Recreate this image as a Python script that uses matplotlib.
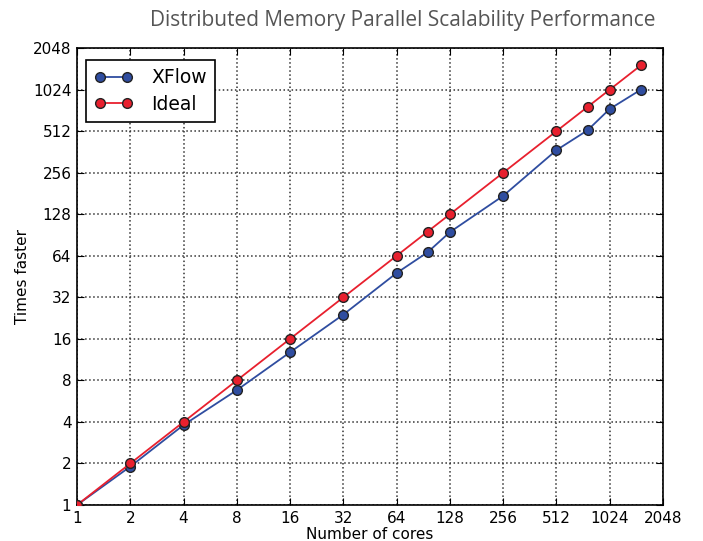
import numpy as np
import matplotlib.pyplot as plt

# Data
cores = np.array([1, 2, 4, 8, 16, 32, 64, 96, 128, 256, 512, 768, 1024, 1536])
xflow = np.array([1, 1.9, 3.8, 6.8, 12.8, 24, 48, 68, 95, 174, 373, 520, 742, 1024])
ideal = cores.astype(float)
ticks = [1, 2, 4, 8, 16, 32, 64, 128, 256, 512, 1024, 2048]

fig = plt.figure(figsize=(7.03, 5.41), dpi=100)
ax = fig.add_axes([0.1095, 0.0665, 0.8335, 0.8445])

ax.plot(cores, xflow, '-o', color='#2f4da0', mfc='#2f4da0', mec='#222222',
        ms=7, lw=1.3, label='XFlow', zorder=3)
ax.plot(cores, ideal, '-o', color='#e8202e', mfc='#e8202e', mec='#222222',
        ms=7, lw=1.3, label='Ideal', zorder=3)

ax.set_xscale('log', base=2)
ax.set_yscale('log', base=2)
ax.set_xlim(1, 2048)
ax.set_ylim(1, 2048)
ax.set_xticks(ticks)
ax.set_xticklabels([str(t) for t in ticks])
ax.set_yticks(ticks)
ax.set_yticklabels([str(t) for t in ticks])
ax.minorticks_off()
ax.tick_params(direction='in', top=True, right=True, length=5, labelsize=11, pad=4)
ax.grid(True, linestyle=':', color='#333333', linewidth=1.1)
for s in ax.spines.values():
    s.set_linewidth(1.2)

ax.set_xlabel('Number of cores', fontsize=11, labelpad=1)
ax.set_ylabel('Times faster', fontsize=11, labelpad=2)

leg = ax.legend(loc='upper left', fontsize=13.5, fancybox=False, framealpha=1,
                edgecolor='black', borderpad=0.45, handlelength=2.0, numpoints=2,
                labelspacing=0.4, handletextpad=1.0,
                bbox_to_anchor=(0.0, 0.995))
leg.get_frame().set_linewidth(1.2)

fig.text(0.573, 0.963, 'Distributed Memory Parallel Scalability Performance',
         ha='center', va='center', fontsize=15, color='#555555', family='Open Sans')

fig.savefig('out.png', dpi=100)
